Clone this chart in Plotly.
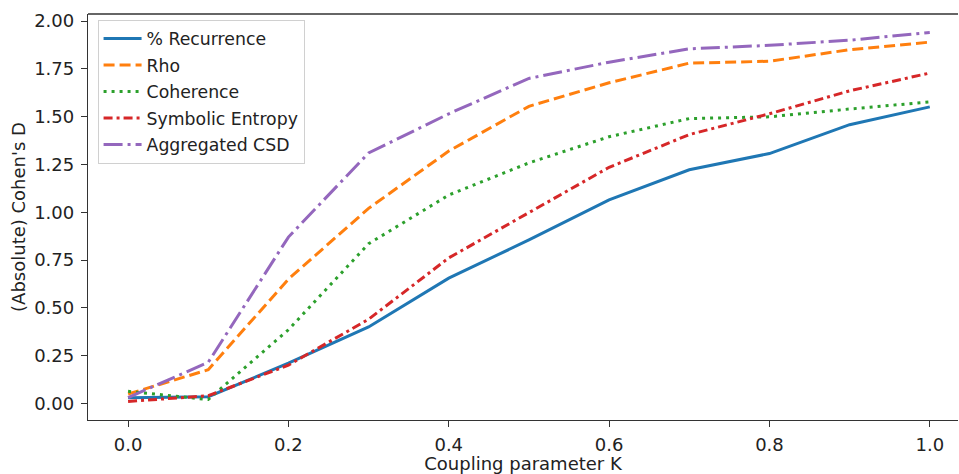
import plotly.graph_objects as go

K = [0.0, 0.1, 0.2, 0.3, 0.4, 0.5, 0.6, 0.7, 0.8, 0.9, 1.0]
recurrence = [0.03, 0.035, 0.21, 0.40, 0.655, 0.855, 1.065, 1.222, 1.307, 1.458, 1.551]
rho = [0.049, 0.176, 0.65, 1.02, 1.32, 1.554, 1.677, 1.78, 1.79, 1.85, 1.89]
coherence = [0.063, 0.02, 0.385, 0.835, 1.09, 1.258, 1.395, 1.49, 1.499, 1.54, 1.577]
symbolic_entropy = [0.01, 0.04, 0.20, 0.44, 0.761, 1.0, 1.235, 1.406, 1.515, 1.635, 1.728]
aggregated_csd = [0.03, 0.215, 0.87, 1.31, 1.515, 1.70, 1.785, 1.855, 1.873, 1.90, 1.94]

series = [
    ("% Recurrence", recurrence, "#1f77b4", "solid"),
    ("Rho", rho, "#ff7f0e", "11px,5px"),
    ("Coherence", coherence, "#2ca02c", "3px,5px"),
    ("Symbolic Entropy", symbolic_entropy, "#d62728", "9px,4px,3px,4px"),
    ("Aggregated CSD", aggregated_csd, "#9467bd", "19px,5px,3px,5px"),
]

FONT = "DejaVu Sans"
FS = 18
fig = go.Figure()
for i, (name, vals, color, dash) in enumerate(series):
    fig.add_trace(go.Scatter(
        x=K, y=vals, mode="lines", name=name, legendgroup=f"g{i}",
        line=dict(color=color, width=3, dash=dash),
    ))

axis_common = dict(
    showgrid=False, zeroline=False, showline=True, linecolor="#333", linewidth=1.3,
    ticks="outside", ticklen=6, tickwidth=1.3, tickcolor="#333",
    tickfont=dict(family=FONT, size=FS, color="#222"),
    mirror=False,
)

fig.update_layout(
    width=959, height=474,
    margin=dict(l=88, r=1, t=14, b=54),
    paper_bgcolor="white", plot_bgcolor="white",
    font=dict(family=FONT, size=FS, color="#222"),
    xaxis=dict(
        **axis_common, range=[-0.05, 1.0352], tickvals=[0, 0.2, 0.4, 0.6, 0.8, 1.0],
        ticktext=["0.0", "0.2", "0.4", "0.6", "0.8", "1.0"], ticklabelstandoff=2,
        title=dict(text="Coupling parameter K", font=dict(family=FONT, size=FS, color="#222"), standoff=2),
    ),
    yaxis=dict(
        **axis_common, range=[-0.087, 2.037], tickvals=[0, 0.25, 0.5, 0.75, 1.0, 1.25, 1.5, 1.75, 2.0],
        ticktext=["0.00", "0.25", "0.50", "0.75", "1.00", "1.25", "1.50", "1.75", "2.00"],
        ticklabelstandoff=3,
        title=dict(text="(Absolute) Cohen's D", font=dict(family=FONT, size=FS, color="#222"), standoff=3),
    ),
    legend=dict(
        x=0.011, y=0.986, xanchor="left", yanchor="top",
        bgcolor="rgba(255,255,255,0.8)", bordercolor="#d0d0d0", borderwidth=1,
        font=dict(family=FONT, size=17.3, color="#222"),
        traceorder="grouped", tracegroupgap=1, itemwidth=38,
    ),
    showlegend=True,
)
fig.add_shape(type="line", xref="paper", yref="paper", x0=0, x1=1, y0=1, y1=1,
              line=dict(color="#333", width=1.3))

fig.write_html("out.html")
